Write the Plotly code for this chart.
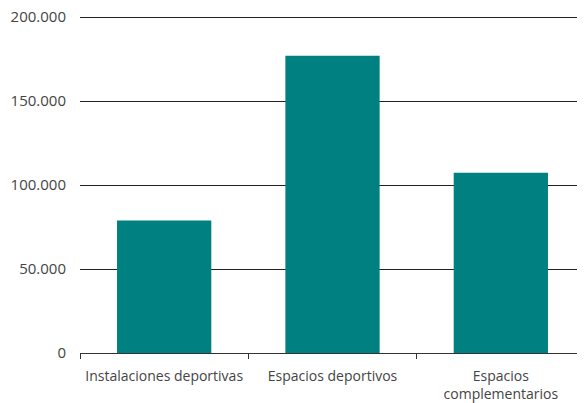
import plotly.graph_objects as go

categories = ["Instalaciones deportivas", "Espacios deportivos", "Espacios<br>complementarios"]
values = [78800, 177000, 107300]
y_ticks = [0, 50000, 100000, 150000, 200000]

fig = go.Figure(go.Bar(x=categories, y=values, marker_color="#008080", marker_line_width=0))

fig.update_layout(
    width=577, height=395,
    margin=dict(l=72, r=0, t=8, b=50),
    plot_bgcolor="white", paper_bgcolor="white",
    separators=",.",
    bargap=0.44,
    showlegend=False,
    font=dict(family="Open Sans, sans-serif", size=14, color="#444"),
)
fig.update_yaxes(
    range=[0, 200600], tickvals=y_ticks, tickformat=",d",
    showgrid=True, gridcolor="#222", gridwidth=1,
    zeroline=False, showline=False, ticks="", ticklabelstandoff=13,
    tickfont=dict(size=15), automargin=False, ticklabeloverflow="allow",
)
fig.update_xaxes(
    showline=True, linecolor="#333", linewidth=1,
    ticks="outside", tickson="boundaries", ticklen=5, tickcolor="#333",
    showgrid=False, ticklabelstandoff=10, automargin=False,
)
fig.write_html("out.html")
